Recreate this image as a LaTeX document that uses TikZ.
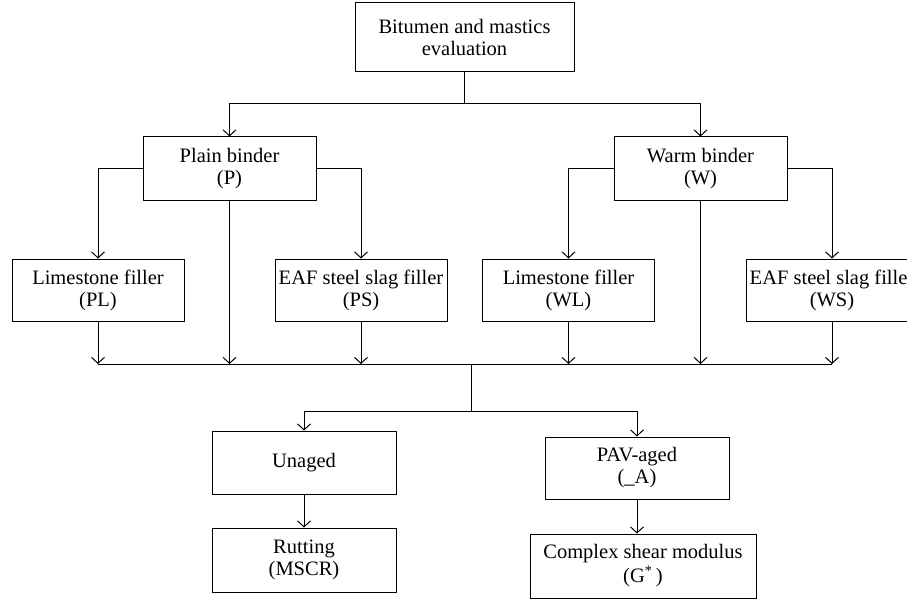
\documentclass[tikz,border=0pt]{standalone}
\usepackage{fontspec}
\setmainfont{Liberation Serif}
\usetikzlibrary{arrows.meta}

\tikzset{
	box/.style = {draw, line width = 1pt, align = center, inner sep = 0pt,
		font = \fontsize{20.5}{22}\selectfont},
	link/.style = {line width = 1pt},
	arr/.style = {link, -{Straight Barb[length = 6pt, width = 13pt]}}
}

\begin{document}
\begin{tikzpicture}[x = 1pt, y = -1pt]
	\useasboundingbox (0,0) rectangle (907,599);
	\clip (0,0) rectangle (907,599);

	\node[box, minimum width = 219pt, minimum height = 69pt] (eval) at (464.5,37.5) {Bitumen and mastics\\evaluation};

	\node[box, minimum width = 173pt, minimum height = 63pt] (plain) at (229.5,168.5) {Plain binder\\(P)};
	\node[box, minimum width = 173pt, minimum height = 63pt] (warm) at (700.5,168.5) {Warm binder\\(W)};

	\node[box, minimum width = 172pt, minimum height = 62pt] (pl) at (98,290) {Limestone filler\\(PL)};
	\node[box, minimum width = 172pt, minimum height = 62pt] (ps) at (361,290) {EAF steel slag filler\\(PS)};
	\node[box, minimum width = 172pt, minimum height = 62pt] (wl) at (568.5,290) {Limestone filler\\(WL)};
	\node[box, minimum width = 172pt, minimum height = 62pt] (ws) at (832,290) {EAF steel slag filler\\(WS)};

	\node[box, minimum width = 184pt, minimum height = 63pt] (unaged) at (304,462.5) {Unaged};
	\node[box, minimum width = 184pt, minimum height = 64pt] (rut) at (304,560) {Rutting\\(MSCR)};
	\node[box, minimum width = 184pt, minimum height = 62pt] (pav) at (637,468) {PAV-aged\\(\_A)};
	\node[box, minimum width = 226pt, minimum height = 64pt] (shear) at (643,566) {Complex shear modulus\\[2pt](G\textsuperscript{*}\,)};

	\coordinate (top) at (464.5,104);
	\coordinate (merge) at (471,364);
	\coordinate (split) at (471,411);

	\draw[link] (eval.south) -- (top);
	\draw[arr] (top) -| (plain.north);
	\draw[arr] (top) -| (warm.north);

	\draw[arr] (plain.west) -| (pl.north);
	\draw[arr] (plain.east) -| (ps.north);
	\draw[arr] (warm.west) -| (wl.north);
	\draw[arr] (warm.east) -| (ws.north);

	\draw[arr] (pl.south) -- (pl.south |- merge);
	\draw[arr] (plain.south) -- (plain.south |- merge);
	\draw[arr] (ps.south) -- (ps.south |- merge);
	\draw[arr] (wl.south) -- (wl.south |- merge);
	\draw[arr] (warm.south) -- (warm.south |- merge);
	\draw[arr] (ws.south) -- (ws.south |- merge);
	\draw[link] (pl.south |- merge) -- (ws.south |- merge);

	\draw[link] (merge) -- (split);
	\draw[arr] (split) -| (unaged.north);
	\draw[arr] (split) -| (pav.north);
	\draw[arr] (unaged.south) -- (rut.north);
	\draw[arr] (pav.south) -- (pav.south |- shear.north);
\end{tikzpicture}
\end{document}
